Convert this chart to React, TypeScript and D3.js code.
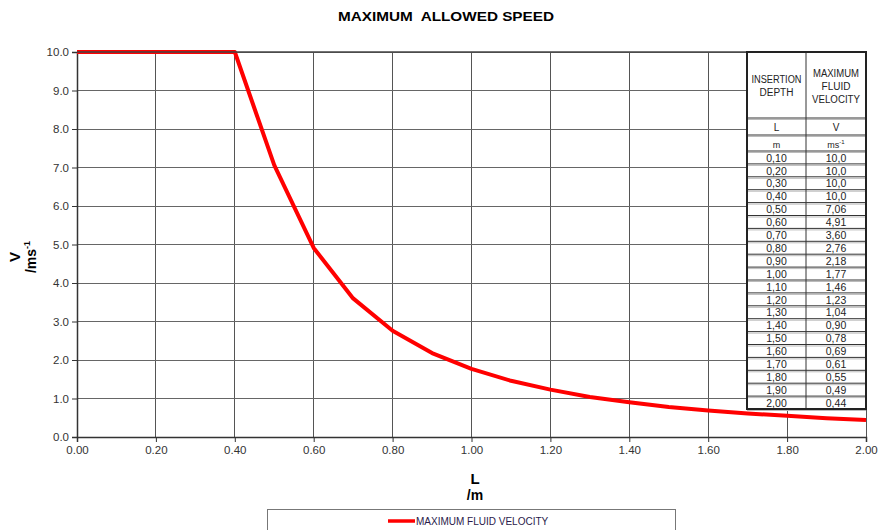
import { useEffect, useRef } from "react";
import * as d3 from "d3";

const depthL = [0.0, 0.1, 0.2, 0.3, 0.4, 0.5, 0.6, 0.7, 0.8, 0.9, 1.0, 1.1, 1.2, 1.3, 1.4, 1.5, 1.6, 1.7, 1.8, 1.9, 2.0];
const velocityV = [10.0, 10.0, 10.0, 10.0, 10.0, 7.06, 4.91, 3.6, 2.76, 2.18, 1.77, 1.46, 1.23, 1.04, 0.9, 0.78, 0.69, 0.61, 0.55, 0.49, 0.44];
const xTicks = [0, 0.2, 0.4, 0.6, 0.8, 1.0, 1.2, 1.4, 1.6, 1.8, 2.0];
const yTicks = [0, 1, 2, 3, 4, 5, 6, 7, 8, 9, 10];
const title = "MAXIMUM  ALLOWED SPEED";
const legendLabel = "MAXIMUM FLUID VELOCITY";

const FONT = "'Liberation Sans', Arial, sans-serif";

export default function App() {
  const ref = useRef<SVGSVGElement | null>(null);

  useEffect(() => {
    if (!ref.current) return;
    const svg = d3.select(ref.current);
    svg.selectAll("*").remove();

    const W = 886, H = 530;
    const margin = { top: 52, right: 20, bottom: 93, left: 77 };
    const w = W - margin.left - margin.right;
    const h = H - margin.top - margin.bottom;

    svg.append("rect").attr("width", W).attr("height", H).attr("fill", "#fff");

    const x = d3.scaleLinear().domain([0, 2]).range([0, w]);
    const y = d3.scaleLinear().domain([0, 10]).range([h, 0]);

    const g = svg.append("g").attr("transform", `translate(${margin.left},${margin.top})`);

    // grid
    g.append("g").selectAll("line").data(xTicks.slice(1)).join("line")
      .attr("x1", d => x(d)).attr("x2", d => x(d))
      .attr("y1", 0).attr("y2", h)
      .attr("stroke", "#555").attr("stroke-width", 1).attr("shape-rendering", "crispEdges");
    g.append("g").selectAll("line").data(yTicks.slice(1)).join("line")
      .attr("x1", 0).attr("x2", w)
      .attr("y1", d => y(d)).attr("y2", d => y(d))
      .attr("stroke", "#666").attr("stroke-width", 1).attr("shape-rendering", "crispEdges");

    // axes
    const xAxis = g.append("g").attr("transform", `translate(0,${h})`)
      .call(d3.axisBottom(x).tickValues(xTicks).tickFormat(d3.format(".2f")).tickSize(5).tickPadding(4));
    const yAxis = g.append("g")
      .call(d3.axisLeft(y).tickValues(yTicks).tickFormat(d3.format(".1f")).tickSize(5).tickPadding(3));
    [xAxis, yAxis].forEach(a => {
      a.select(".domain").attr("stroke", "#333").attr("stroke-width", 1.5);
      a.selectAll(".tick line").attr("stroke", "#333");
      a.selectAll("text").attr("font-family", FONT).attr("font-size", 11.5).attr("fill", "#333");
    });

    // line
    const pts = depthL.map((l, i) => ({ l, v: velocityV[i] }));
    const line = d3.line<{ l: number; v: number }>().x(d => x(d.l)).y(d => y(d.v));
    g.append("path").datum(pts)
      .attr("fill", "none").attr("stroke", "#ff0000").attr("stroke-width", 4)
      .attr("stroke-linejoin", "round").attr("d", line as any);

    // top border
    g.append("line").attr("x1", 0).attr("x2", w).attr("y1", 0).attr("y2", 0)
      .attr("stroke", "#444").attr("stroke-width", 1.5);

    // table
    const tL = 747 - margin.left, tR = w, tM = 806 - margin.left;
    const headB = 118 - margin.top, lB = 135 - margin.top, mB = 151 - margin.top, rowH = 12.9;
    const rows = depthL.slice(1).map((l, i) => ({ l, v: velocityV[i + 1] }));
    const tB = mB + rows.length * rowH;
    const t = g.append("g");
    t.append("rect").attr("x", tL).attr("y", 0).attr("width", tR - tL).attr("height", tB)
      .attr("fill", "#fff");
    const hl = [headB, lB, mB, ...rows.map((_, i) => mB + (i + 1) * rowH)];
    t.selectAll("line.h").data(hl).join("line")
      .attr("x1", tL).attr("x2", tR).attr("y1", d => d).attr("y2", d => d)
      .attr("stroke", "#333").attr("stroke-width", 1);
    t.selectAll("line.s").data(hl).join("line")
      .attr("x1", tL).attr("x2", tR).attr("y1", d => d + 1.5).attr("y2", d => d + 1.5)
      .attr("stroke", "#bbb").attr("stroke-width", 1);
    t.append("line").attr("x1", tM).attr("x2", tM).attr("y1", 0).attr("y2", tB)
      .attr("stroke", "#333").attr("stroke-width", 1);
    t.append("rect").attr("x", tL).attr("y", 0).attr("width", tR - tL).attr("height", tB)
      .attr("fill", "none").attr("stroke", "#222").attr("stroke-width", 2);

    const c1 = (tL + tM) / 2, c2 = (tM + tR) / 2;
    const txt = (xx: number, yy: number, s: string, size = 10) =>
      t.append("text").attr("x", xx).attr("y", yy).attr("text-anchor", "middle")
        .attr("font-family", FONT).attr("font-size", size).attr("fill", "#222").text(s);
    txt(c1, 83 - margin.top, "INSERTION").attr("textLength", 50).attr("lengthAdjust", "spacingAndGlyphs");
    txt(c1, 96 - margin.top, "DEPTH");
    txt(c2, 77 - margin.top, "MAXIMUM").attr("textLength", 46).attr("lengthAdjust", "spacingAndGlyphs");
    txt(c2, 90 - margin.top, "FLUID");
    txt(c2, 103 - margin.top, "VELOCITY").attr("textLength", 48).attr("lengthAdjust", "spacingAndGlyphs");
    txt(c1, lB - 4, "L", 10);
    txt(c2, lB - 4, "V", 10);
    txt(c1, mB - 3, "m", 9);
    const ms = txt(c2, mB - 3, "ms", 9);
    ms.append("tspan").attr("dy", -4).attr("font-size", 6).text("-1");
    rows.forEach((r, i) => {
      const yy = mB + i * rowH + rowH - 2.3;
      txt(c1, yy, r.l.toFixed(2).replace(".", ","), 10.5);
      txt(c2, yy, (r.v >= 10 ? r.v.toFixed(1) : r.v.toFixed(2)).replace(".", ","), 10.5);
    });

    // title
    svg.append("text").attr("x", 446).attr("y", 21).attr("text-anchor", "middle")
      .attr("font-family", FONT).attr("font-size", 13.5).attr("font-weight", "bold")
      .attr("textLength", 216).attr("lengthAdjust", "spacingAndGlyphs")
      .attr("xml:space", "preserve").text(title);

    // axis titles
    const yl = svg.append("g").attr("transform", "translate(20,257) rotate(-90)");
    yl.append("text").attr("x", 0).attr("y", 0).attr("text-anchor", "middle")
      .attr("font-family", FONT).attr("font-size", 15).attr("font-weight", "bold").text("V");
    const yl2 = yl.append("text").attr("x", 0).attr("y", 16).attr("text-anchor", "middle")
      .attr("font-family", FONT).attr("font-size", 14).attr("font-weight", "bold").text("/ms");
    yl2.append("tspan").attr("dy", -6).attr("font-size", 9).text("-1");

    svg.append("text").attr("x", 475).attr("y", 484).attr("text-anchor", "middle")
      .attr("font-family", FONT).attr("font-size", 15).attr("font-weight", "bold").text("L");
    svg.append("text").attr("x", 475).attr("y", 500).attr("text-anchor", "middle")
      .attr("font-family", FONT).attr("font-size", 14).attr("font-weight", "bold").text("/m");

    // legend
    svg.append("rect").attr("x", 267.5).attr("y", 509.5).attr("width", 408).attr("height", 40)
      .attr("fill", "#fff").attr("stroke", "#777").attr("stroke-width", 1);
    svg.append("line").attr("x1", 388).attr("x2", 415).attr("y1", 521).attr("y2", 521)
      .attr("stroke", "#ff0000").attr("stroke-width", 3.5);
    svg.append("text").attr("x", 416).attr("y", 525)
      .attr("font-family", FONT).attr("font-size", 10).attr("fill", "#2a1a4a").text(legendLabel);
  }, []);

  return (
    <svg ref={ref} width={886} height={530}
      style={{ position: "absolute", left: 0, top: 0, display: "block" }} />
  );
}
